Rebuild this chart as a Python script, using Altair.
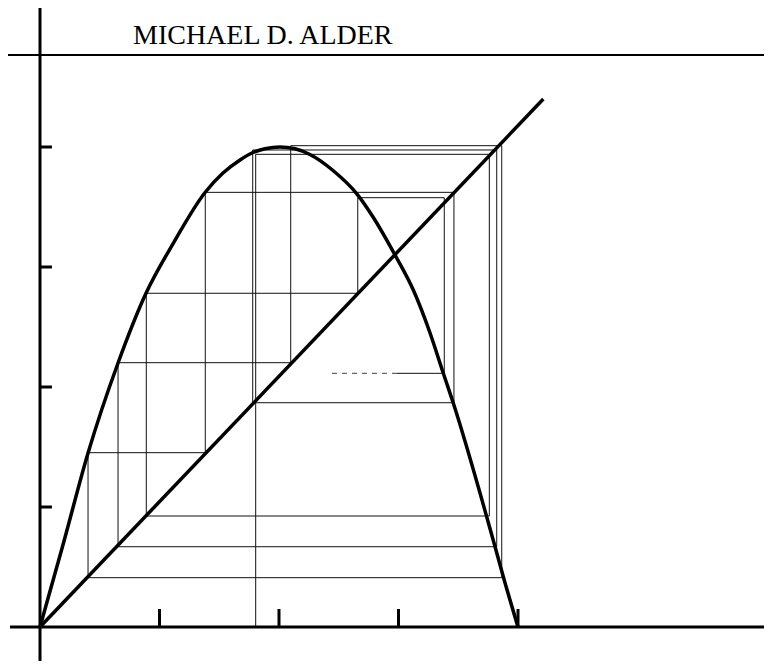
import altair as alt
import pandas as pd

# ---------------- data ----------------
title_text = "MICHAEL D. ALDER"

# the hump-shaped map
curve_x = [0.0, 0.192, 0.402, 0.653, 0.887, 1.115, 1.381, 1.531, 1.674, 1.782, 1.883,
           2.008, 2.134, 2.259, 2.452, 2.653, 2.787, 2.971, 3.124, 3.264, 3.375,
           3.459, 3.738, 3.808, 3.877, 4.0]
curve_y = [0.0, 0.683, 1.45, 2.2, 2.781, 3.197, 3.621, 3.783, 3.892, 3.954, 3.985,
           4.0, 3.985, 3.9375, 3.804, 3.608, 3.417, 3.1, 2.808, 2.45, 2.114,
           1.864, 0.919, 0.669, 0.419, 0.0]

# the diagonal
diag_x = [0.0, 4.212]
diag_y = [0.0, 4.4]

tick_values = [1, 2, 3, 4]

# closed cobweb (starts with a horizontal step)
orbit_b_x = [1.780, 3.464, 1.383, 0.402, 3.864, 2.098, 0.653, 3.822, 1.780]
orbit_b_y = [1.869, 3.622, 1.4525, 0.411, 4.011, 2.2025, 0.669, 3.975, 1.869]

# open cobweb from the axis (starts with a vertical step)
orbit_a_x = [1.805, 3.760, 0.8895, 2.659, 3.383, 2.987]
orbit_a_y = [0.0, 3.939, 0.925, 2.781, 3.5775, 2.114]

# dashed continuation
tail_x = [2.987, 2.444]
tail_y = [2.114, 2.114]

# ---------------- geometry ----------------
W, H = 756, 653
X_DOM = [-0.2678, 6.0586]
Y_DOM = [-0.2833, 5.1583]
xs = alt.Scale(domain=X_DOM, nice=False, zero=False)
ys = alt.Scale(domain=Y_DOM, nice=False, zero=False)


def path_df(xv, yv):
    return pd.DataFrame({"x": xv, "y": yv, "i": list(range(len(xv)))})


def cobweb_h_first(bx, by):
    px, py = [bx[0]], [by[0]]
    for k in range(1, len(bx)):
        px += [bx[k], bx[k]]
        py += [by[k - 1], by[k]]
    return px, py


def cobweb_v_first(ax, ay):
    px, py = [ax[0]], [ay[0]]
    for k in range(1, len(ax)):
        px += [ax[k - 1], ax[k]]
        py += [ay[k], ay[k]]
    return px, py


def line(df, width, color="black", dash=None, interp="linear", opacity=1.0):
    kw = dict(strokeWidth=width, color=color, interpolate=interp, opacity=opacity,
              strokeCap="butt", strokeJoin="miter")
    if dash:
        kw["strokeDash"] = dash
    return alt.Chart(df).mark_line(**kw).encode(
        x=alt.X("x:Q", scale=xs, axis=None),
        y=alt.Y("y:Q", scale=ys, axis=None),
        order="i:Q",
    )


def rules(df, width):
    return alt.Chart(df).mark_rule(strokeWidth=width, color="black", strokeCap="butt").encode(
        x=alt.X("x:Q", scale=xs, axis=None),
        x2="x2:Q",
        y=alt.Y("y:Q", scale=ys, axis=None),
        y2="y2:Q",
    )


bx, by = cobweb_h_first(orbit_b_x, orbit_b_y)
axx, axy = cobweb_v_first(orbit_a_x, orbit_a_y)

layers = [
    line(path_df(bx, by), 1, "#111111"),
    line(path_df(axx, axy), 1, "#111111"),
    line(path_df(tail_x, tail_y), 1.2, "#666666", dash=[5, 5]),
    line(path_df(curve_x, curve_y), 3.5, interp="monotone"),
    line(path_df(diag_x, diag_y), 3.5),
]

# frame: axes and the running-head rule
frame = pd.DataFrame({
    "x": [-0.251, 0.0, X_DOM[0]],
    "x2": [X_DOM[1], 0.0, X_DOM[1]],
    "y": [0.0, Y_DOM[1], 4.767],
    "y2": [0.0, Y_DOM[0], 4.767],
})
layers.append(rules(frame.iloc[:2], 3))
layers.append(rules(frame.iloc[2:], 2))

xt = pd.DataFrame({"x": tick_values, "x2": tick_values,
                   "y": [0.0] * 4, "y2": [0.15] * 4})
yt = pd.DataFrame({"x": [0.0] * 4, "x2": [0.1] * 4,
                   "y": tick_values, "y2": tick_values})
layers.append(rules(xt, 3))
layers.append(rules(yt, 3))

text = alt.Chart(pd.DataFrame({"t": [title_text]})).mark_text(
    align="left", baseline="alphabetic", font="Liberation Serif", fontSize=28, color="black"
).encode(x=alt.value(125), y=alt.value(36), text="t:N")
layers.append(text)

chart = alt.layer(*layers).properties(
    width=W, height=H, padding=0,
    autosize=alt.AutoSizeParams(type="none"),
).configure_view(stroke=None)

chart.save("out.html", embed_options={"renderer": "svg", "actions": False})
